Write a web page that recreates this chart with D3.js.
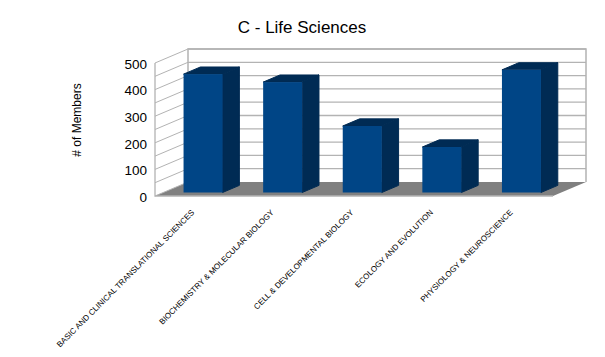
<!DOCTYPE html>
<html>
<head>
<meta charset="utf-8">
<script src="https://cdnjs.cloudflare.com/ajax/libs/d3/7.8.5/d3.min.js"></script>
<style>
html, body { margin: 0; padding: 0; background: #fff; }
text { font-family: "Liberation Sans", Arial, sans-serif; fill: #000; }
</style>
</head>
<body>
<div id="chart"></div>
<script>
var categories = [
    "BASIC AND CLINICAL TRANSLATIONAL SCIENCES",
    "BIOCHEMISTRY & MOLECULAR BIOLOGY",
    "CELL & DEVELOPMENTAL BIOLOGY",
    "ECOLOGY AND EVOLUTION",
    "PHYSIOLOGY & NEUROSCIENCE"
];
var members = [445, 415, 250, 171, 461];
var yTickLabels = [0, 100, 200, 300, 400, 500];
var gridValues = [0, 50, 100, 150, 200, 250, 300, 350, 400, 450, 500];

var w = 605;
var h = 357;

//front edge of the floor and the full depth of the box
var boxLeft = 155, boxRight = 553, boxBottom = 196, boxTop = 63;
var depthX = 33, depthY = 14;

//where the bars sit inside the box, as a fraction of the depth
var barFront = 0.25, barBack = 0.76;

var xScale = d3.scaleBand()
                .domain(categories)
                .range([boxLeft, boxRight])
                .paddingInner(0.51)
                .paddingOuter(0.255);

var yScale = d3.scaleLinear()
                .domain([0, 500])
                .range([boxBottom, boxTop]);

function px(x, depth) { return x + depth * depthX; }
function py(y, depth) { return y - depth * depthY; }

function poly(points) {
    return points.map(function(p) { return p.join(","); }).join(" ");
}

var svg = d3.select("#chart")
            .append("svg")
            .attr("width", w)
            .attr("height", h)
            .style("display", "block");

//walls
svg.append("polygon")
    .attr("points", poly([[boxLeft, yScale(0)], [px(boxLeft, 1), py(yScale(0), 1)], [px(boxLeft, 1), py(yScale(500), 1)], [boxLeft, yScale(500)]]))
    .attr("fill", "#fff");

//floor
svg.append("polygon")
    .attr("points", poly([[boxLeft, yScale(0)], [boxRight, yScale(0)], [px(boxRight, 1), py(yScale(0), 1)], [px(boxLeft, 1), py(yScale(0), 1)]]))
    .attr("fill", "#808080");

//grid lines, side wall then back wall
svg.append("g").selectAll("line")
    .data(gridValues)
    .enter()
    .append("line")
    .attr("x1", boxLeft)
    .attr("y1", function(d) { return yScale(d); })
    .attr("x2", px(boxLeft, 1))
    .attr("y2", function(d) { return py(yScale(d), 1); })
    .attr("stroke", "#b3b3b3")
    .attr("stroke-width", 1);

svg.append("g").selectAll("line")
    .data(gridValues.slice(1))
    .enter()
    .append("line")
    .attr("x1", px(boxLeft, 1))
    .attr("y1", function(d) { return py(yScale(d), 1); })
    .attr("x2", px(boxRight, 1))
    .attr("y2", function(d) { return py(yScale(d), 1); })
    .attr("stroke", "#b3b3b3")
    .attr("stroke-width", 1.3);

//box outline
svg.append("polyline")
    .attr("points", poly([[px(boxRight, 1), py(yScale(0), 1)], [px(boxRight, 1), py(yScale(500), 1)], [px(boxLeft, 1), py(yScale(500), 1)], [px(boxLeft, 1), py(yScale(0), 1)]]))
    .attr("fill", "none")
    .attr("stroke", "#b3b3b3")
    .attr("stroke-width", 1.5);

svg.append("polyline")
    .attr("points", poly([[boxLeft, yScale(500)], [boxLeft, yScale(0)], [boxRight, yScale(0)]]))
    .attr("fill", "none")
    .attr("stroke", "#b3b3b3")
    .attr("stroke-width", 1.3);

//bars: side, top, front
var bars = svg.append("g").selectAll("g")
                .data(categories)
                .enter()
                .append("g");

function barX0(d) { return xScale(d); }
function barX1(d) { return xScale(d) + xScale.bandwidth(); }
function barValue(d) { return members[categories.indexOf(d)]; }

bars.append("polygon")
    .attr("fill", "#002b54")
    .attr("stroke", "#002b54")
    .attr("stroke-linejoin", "round")
    .attr("points", function(d) {
        var y0 = yScale(0), y1 = yScale(barValue(d));
        return poly([
            [px(barX1(d), barFront), py(y0, barFront)],
            [px(barX1(d), barBack), py(y0, barBack)],
            [px(barX1(d), barBack), py(y1, barBack)],
            [px(barX1(d), barFront), py(y1, barFront)]
        ]);
    });

bars.append("polygon")
    .attr("fill", "#002b54")
    .attr("stroke", "#002b54")
    .attr("stroke-linejoin", "round")
    .attr("points", function(d) {
        var y1 = yScale(barValue(d));
        return poly([
            [px(barX0(d), barFront), py(y1, barFront)],
            [px(barX0(d), barBack), py(y1, barBack)],
            [px(barX1(d), barBack), py(y1, barBack)],
            [px(barX1(d), barFront), py(y1, barFront)]
        ]);
    });

bars.append("rect")
    .attr("fill", "#004586")
    .attr("x", function(d) { return px(barX0(d), barFront); })
    .attr("y", function(d) { return py(yScale(barValue(d)), barFront); })
    .attr("width", xScale.bandwidth())
    .attr("height", function(d) { return yScale(0) - yScale(barValue(d)); });

//y axis labels
var yAxis = d3.axisLeft(yScale)
                .tickValues(yTickLabels)
                .tickSize(0)
                .tickPadding(8);

svg.append("g")
    .attr("transform", "translate(" + boxLeft + ",1)")
    .call(yAxis)
    .call(function(g) { g.select(".domain").remove(); })
    .selectAll("text")
    .style("font-size", "13.5px");

//x axis labels, rotated 45 degrees
var xAxis = d3.axisBottom(xScale)
                .tickSize(0)
                .tickPadding(0);

svg.append("g")
    .attr("transform", "translate(0," + boxBottom + ")")
    .call(xAxis)
    .call(function(g) { g.select(".domain").remove(); })
    .selectAll("text")
    .style("font-size", "8px")
    .style("text-anchor", "end")
    .attr("dy", null)
    .attr("y", null)
    .attr("transform", "translate(0,17) rotate(-45)");

//titles
svg.append("text")
    .attr("x", 302)
    .attr("y", 33)
    .attr("text-anchor", "middle")
    .style("font-size", "17px")
    .text("C - Life Sciences");

svg.append("text")
    .attr("transform", "translate(81,120) rotate(-90)")
    .attr("text-anchor", "middle")
    .style("font-size", "12px")
    .text("# of Members");
</script>
</body>
</html>
